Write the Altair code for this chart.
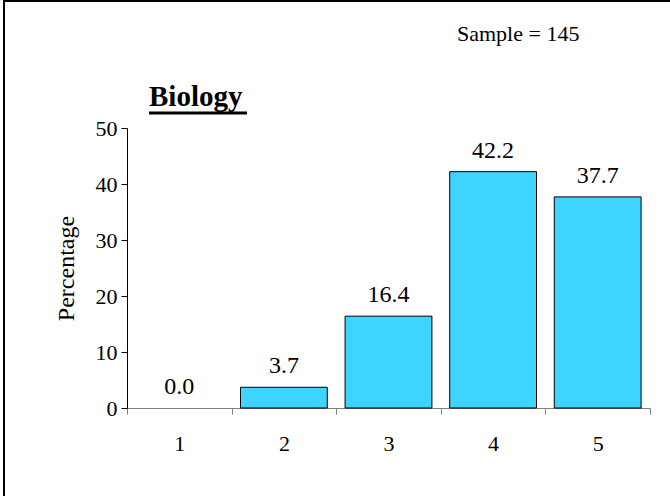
import altair as alt
import pandas as pd

# Survey response distribution for Biology
scores = ["1", "2", "3", "4", "5"]
percentages = [0.0, 3.7, 16.4, 42.2, 37.7]
sample_text = "Sample = 145"
subject = "Biology"

df = pd.DataFrame({"score": scores, "pct": percentages})
df["label"] = [f"{v:.1f}" for v in percentages]

FONT = "Liberation Serif"
W, H = 523, 280
PAD_L, PAD_T = 127, 128

x_enc = alt.X(
    "score:O",
    scale=alt.Scale(paddingInner=0, paddingOuter=0),
    axis=alt.Axis(
        title=None, labelAngle=0, labelFont=FONT, labelFontSize=22,
        labelColor="black", labelPadding=19, tickBand="extent",
        domainColor="#808080", tickColor="#808080", tickSize=6,
        labelBaseline="top",
    ),
)
y_enc = alt.Y(
    "pct:Q",
    scale=alt.Scale(domain=[0, 50]),
    axis=alt.Axis(
        values=[0, 10, 20, 30, 40, 50], grid=False, title="Percentage",
        titleFont=FONT, titleFontSize=24, titleFontWeight="normal",
        titleColor="black", titlePadding=17, labelFont=FONT,
        labelFontSize=22, labelColor="black", labelPadding=4,
        domainColor="black", tickColor="black", tickSize=6,
    ),
)

base = alt.Chart(df)

# zero-height bars are left out so no outline sits on the axis
bars = base.transform_filter(alt.datum.pct > 0).mark_bar(
    color="#3fd4ff", stroke="black", strokeWidth=1, width={"band": 0.83}
).encode(x=x_enc, y=y_enc)

labels = base.mark_text(
    font=FONT, fontSize=24, baseline="bottom", dy=-9, color="black"
).encode(x=alt.X("score:O"), y=alt.Y("pct:Q"), text="label:N")

sample = alt.Chart(pd.DataFrame({"t": [sample_text]})).mark_text(
    font=FONT, fontSize=22, align="left", baseline="alphabetic", color="black"
).encode(x=alt.value(457 - PAD_L), y=alt.value(41 - PAD_T), text="t:N")

title = alt.Chart(pd.DataFrame({"t": [subject]})).mark_text(
    font=FONT, fontSize=29, fontWeight="bold", align="left",
    baseline="alphabetic", color="black"
).encode(x=alt.value(149 - PAD_L), y=alt.value(106 - PAD_T), text="t:N")

underline = alt.Chart(pd.DataFrame({"a": [0]})).mark_rule(
    color="black", strokeWidth=3
).encode(
    x=alt.value(149 - PAD_L), x2=alt.value(247 - PAD_L),
    y=alt.value(113 - PAD_T),
)

# outer frame along the left and top edges
frame_left = alt.Chart(pd.DataFrame({"a": [0]})).mark_rule(
    color="black", strokeWidth=2
).encode(x=alt.value(4 - PAD_L), y=alt.value(0 - PAD_T), y2=alt.value(496 - PAD_T))
frame_top = alt.Chart(pd.DataFrame({"a": [0]})).mark_rule(
    color="black", strokeWidth=2
).encode(x=alt.value(3 - PAD_L), x2=alt.value(670 - PAD_L), y=alt.value(1 - PAD_T))

chart = alt.layer(
    bars, labels, sample, title, underline, frame_left, frame_top
).properties(
    width=W, height=H,
    padding={"left": PAD_L, "top": PAD_T, "right": 670 - PAD_L - W, "bottom": 496 - PAD_T - H},
    autosize=alt.AutoSizeParams(type="none"),
    background="white",
).configure_view(stroke=None)

chart.save("out.html", embed_options={"renderer": "svg", "actions": False})
